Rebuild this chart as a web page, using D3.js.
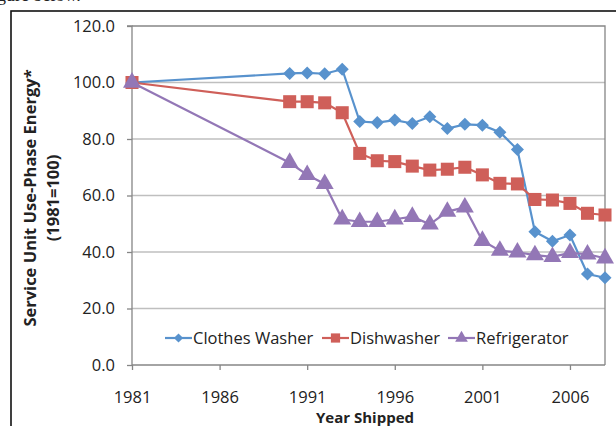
<!DOCTYPE html>
<html lang="en">
<head>
  <meta charset="utf-8">
  <title>Service Unit Use-Phase Energy</title>
  <script src="https://d3js.org/d3.v7.min.js"></script>
  <style>
    body { margin: 0; background: #fff; }
    svg { display: block; font-family: "Open Sans", sans-serif; }
    .grid line { stroke: #bfbfbf; stroke-width: 1.3; }
    .axis path, .axis line { stroke: #868686; stroke-width: 1.3; }
    .axis text { font-size: 16.5px; fill: #222; font-family: "Open Sans", sans-serif; }
    .series-line { fill: none; stroke-width: 2.2; }
  </style>
</head>
<body>
<script>
  // data
  const years = [1981, 1990, 1991, 1992, 1993, 1994, 1995, 1996, 1997, 1998, 1999,
                 2000, 2001, 2002, 2003, 2004, 2005, 2006, 2007, 2008];
  const washer = [100, 103.2, 103.4, 103.1, 104.7, 86.2, 85.8, 86.7, 85.5, 87.9, 83.7,
                  85.2, 84.9, 82.4, 76.3, 47.2, 43.8, 46.0, 32.2, 30.9];
  const dishwasher = [100, 93.2, 93.2, 92.8, 89.3, 74.9, 72.3, 72.0, 70.4, 69.0, 69.3,
                      70.0, 67.3, 64.3, 64.1, 58.6, 58.4, 57.2, 53.7, 53.1];
  const fridge = [100, 71.6, 67.3, 64.1, 51.6, 50.7, 50.7, 51.6, 52.5, 49.8, 54.3,
                  55.8, 44.0, 40.5, 39.9, 38.9, 38.3, 39.7, 39.2, 37.8];
  const seriesNames = ["Clothes Washer", "Dishwasher", "Refrigerator"];
  const seriesColors = ["#5892cd", "#cf5f59", "#9377b6"];
  const yTicks = [0, 20, 40, 60, 80, 100, 120];
  const xTicks = [1981, 1986, 1991, 1996, 2001, 2006];

  const W = 616, H = 426;
  const svg = d3.select("body").append("svg").attr("width", W).attr("height", H);

  // caption above the frame, cut by the top edge as in the source
  svg.append("text").attr("x", -14).attr("y", 0.5)
    .style("font-family", "'Liberation Serif', serif").style("font-size", "18px")
    .attr("fill", "#222").text("figure below.");

  // outer frame
  svg.append("rect").attr("x", 11).attr("y", 11).attr("width", W).attr("height", H)
    .attr("fill", "none").attr("stroke", "#111").attr("stroke-width", 1.6);

  const x = d3.scaleLinear().domain([1981, 2008]).range([132, 605]);
  const y = d3.scaleLinear().domain([0, 120]).range([365, 26]);

  // gridlines
  svg.append("g").attr("class", "grid")
    .selectAll("line").data(yTicks.filter(t => t > 0 && t < 120)).enter().append("line")
    .attr("x1", x(1981)).attr("x2", x(2008))
    .attr("y1", d => y(d)).attr("y2", d => y(d));

  // plot area border (top and right)
  svg.append("path")
    .attr("d", `M${x(1981)},${y(120)}H${x(2008)}V${y(0)}`)
    .attr("fill", "none").attr("stroke", "#868686").attr("stroke-width", 1.3);

  // axes
  svg.append("g").attr("class", "axis")
    .attr("transform", `translate(${x(1981)},0)`)
    .call(d3.axisLeft(y).tickValues(yTicks).tickFormat(d3.format(".1f")).tickSize(5).tickPadding(12))
    .call(g => g.select(".domain").attr("d", `M-5,${y(120)}H0V${y(0)}`));

  svg.append("g").attr("class", "axis")
    .attr("transform", `translate(0,${y(0)})`)
    .call(d3.axisBottom(x).tickValues(xTicks).tickFormat(d3.format("d")).tickSize(5).tickPadding(21))
    .call(g => g.select(".domain").attr("d", `M${x(1981)},0H${x(2008)}`));

  // axis titles
  svg.append("text").attr("x", 365).attr("y", 423).attr("text-anchor", "middle")
    .style("font-size", "15px").style("font-weight", "bold").attr("fill", "#222")
    .text("Year Shipped");
  const yt = svg.append("text").attr("transform", "translate(0,198) rotate(-90)")
    .attr("text-anchor", "middle").style("font-size", "16.5px").style("font-weight", "bold")
    .attr("fill", "#222");
  yt.append("tspan").attr("x", 0).attr("y", 36).text("Service Unit Use-Phase Energy*");
  yt.append("tspan").attr("x", 0).attr("y", 59).text("(1981=100)");

  // marker shapes: diamond = square turned 45 degrees
  const shapes = [d3.symbolSquare, d3.symbolSquare, d3.symbolTriangle];
  const sizes = [85, 170, 140];
  const turn = [" rotate(45)", "", ""];
  const allSeries = [washer, dishwasher, fridge];

  const line = d3.line().x(d => x(d.year)).y(d => y(d.value));

  allSeries.forEach((vals, i) => {
    const pts = years.map((yr, j) => ({ year: yr, value: vals[j] }));
    const g = svg.append("g");
    g.append("path").attr("class", "series-line").datum(pts)
      .attr("d", line).attr("stroke", seriesColors[i]);
    g.selectAll("path.mk").data(pts).enter().append("path")
      .attr("class", "mk")
      .attr("transform", d => `translate(${x(d.year)},${y(d.value)})` + turn[i])
      .attr("d", d3.symbol().type(shapes[i]).size(sizes[i]))
      .attr("fill", seriesColors[i]);
  });

  // legend
  const legendX = [165, 322, 448];
  const legendY = 338;
  seriesNames.forEach((name, i) => {
    const g = svg.append("g").attr("transform", `translate(${legendX[i]},${legendY})`);
    g.append("line").attr("x1", 0).attr("x2", 27).attr("stroke", seriesColors[i]).attr("stroke-width", 2.2);
    g.append("path").attr("transform", `translate(13.5,0)` + turn[i])
      .attr("d", d3.symbol().type(shapes[i]).size(sizes[i] * 0.5)).attr("fill", seriesColors[i]);
    g.append("text").attr("x", 28).attr("y", 6).style("font-size", "16.5px").attr("fill", "#222").text(name);
  });
</script>
</body>
</html>
